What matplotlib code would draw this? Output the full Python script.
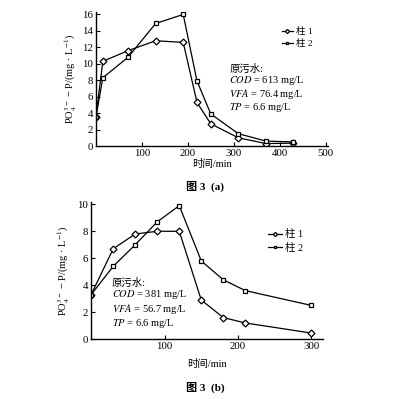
import matplotlib
matplotlib.use('Agg')
import matplotlib.pyplot as plt

plt.rcParams['font.family'] = ['Liberation Serif', 'Noto Sans CJK SC']
plt.rcParams['mathtext.fontset'] = 'stix'

# 图3(a) 数据
t_a = [0, 15, 70, 130, 190, 220, 250, 310, 370, 430]
col1_a = [3.5, 10.3, 11.6, 12.8, 12.6, 5.3, 2.7, 1.0, 0.3, 0.35]
col2_a = [3.5, 8.3, 10.8, 14.9, 16.0, 7.9, 3.9, 1.5, 0.6, 0.5]

# 图3(b) 数据
t_b = [0, 30, 60, 90, 120, 150, 180, 210, 300]
col1_b = [3.3, 6.7, 7.8, 8.0, 8.0, 2.9, 1.6, 1.2, 0.45]
col2_b = [3.3, 5.4, 7.0, 8.7, 9.9, 5.8, 4.4, 3.6, 2.5]

labels = ['柱 1', '柱 2']
ylab = r'PO$_4^{3-}$ − P/(mg · L$^{-1}$)'
fs = 7.5

fig = plt.figure(figsize=(3.98, 3.99), dpi=100)
ax1 = fig.add_axes([0.241, 0.634, 0.583, 0.336])
ax2 = fig.add_axes([0.229, 0.150, 0.583, 0.343])


def style(ax):
    for s in ['top', 'right']:
        ax.spines[s].set_visible(False)
    for s in ['left', 'bottom']:
        ax.spines[s].set_linewidth(1.0)
    ax.tick_params(direction='in', length=3, width=0.8, labelsize=fs + 0.3, pad=2)


# (a)
ax1.plot(t_a, col1_a, '-', marker='D', color='black', lw=0.9, ms=3.5,
         mfc='white', mew=0.9, label=labels[0])
ax1.plot(t_a, col2_a, '-', marker='s', color='black', lw=0.9, ms=3.5,
         mfc='white', mew=0.9, label=labels[1])
ax1.set_xlim(0, 505)
ax1.set_ylim(0, 16.3)
ax1.set_xticks([100, 200, 300, 400, 500])
ax1.set_yticks(range(0, 17, 2))
style(ax1)
ax1.set_ylabel(ylab, fontsize=fs, labelpad=2)
ax1.set_xlabel('时间/min', fontsize=fs, labelpad=1)
ax1.legend(loc='upper left', bbox_to_anchor=(0.78, 0.92), frameon=False,
           fontsize=fs - 0.7, handlelength=1.2, handletextpad=0.3, labelspacing=0.3,
           borderpad=0, markerscale=0.6)
ax1.text(0.575, 0.61, '原污水:\n$COD$ = 613 mg/L\n$VFA$ = 76.4 mg/L\n$TP$ = 6.6 mg/L',
         transform=ax1.transAxes, fontsize=fs, va='top', ha='left', linespacing=1.0)

# (b)
ax2.plot(t_b, col1_b, '-', marker='D', color='black', lw=0.9, ms=3.5,
         mfc='white', mew=0.9, label=labels[0])
ax2.plot(t_b, col2_b, '-', marker='s', color='black', lw=0.9, ms=3.5,
         mfc='white', mew=0.9, label=labels[1])
ax2.set_xlim(0, 316)
ax2.set_ylim(0, 10.15)
ax2.set_xticks([100, 200, 300])
ax2.set_yticks(range(0, 11, 2))
style(ax2)
ax2.set_ylabel(ylab, fontsize=fs, labelpad=4)
ax2.set_xlabel('时间/min', fontsize=fs, labelpad=6)
ax2.legend(loc='upper left', bbox_to_anchor=(0.74, 0.84), frameon=False,
           fontsize=fs, handlelength=1.3, handletextpad=0.3, labelspacing=0.3,
           borderpad=0, markerscale=0.6)
ax2.text(0.09, 0.45, '原污水:\n$COD$ = 381 mg/L\n$VFA$ = 56.7 mg/L\n$TP$ = 6.6 mg/L',
         transform=ax2.transAxes, fontsize=fs, va='top', ha='left', linespacing=1.1)

fig.text(0.515, 1 - 186 / 399, '图 3  (a)', fontsize=fs + 0.5, ha='center', va='center',
         fontweight='bold')
fig.text(0.515, 1 - 387 / 399, '图 3  (b)', fontsize=fs + 0.5, ha='center', va='center',
         fontweight='bold')

fig.savefig('out.png', dpi=100, facecolor='white')
